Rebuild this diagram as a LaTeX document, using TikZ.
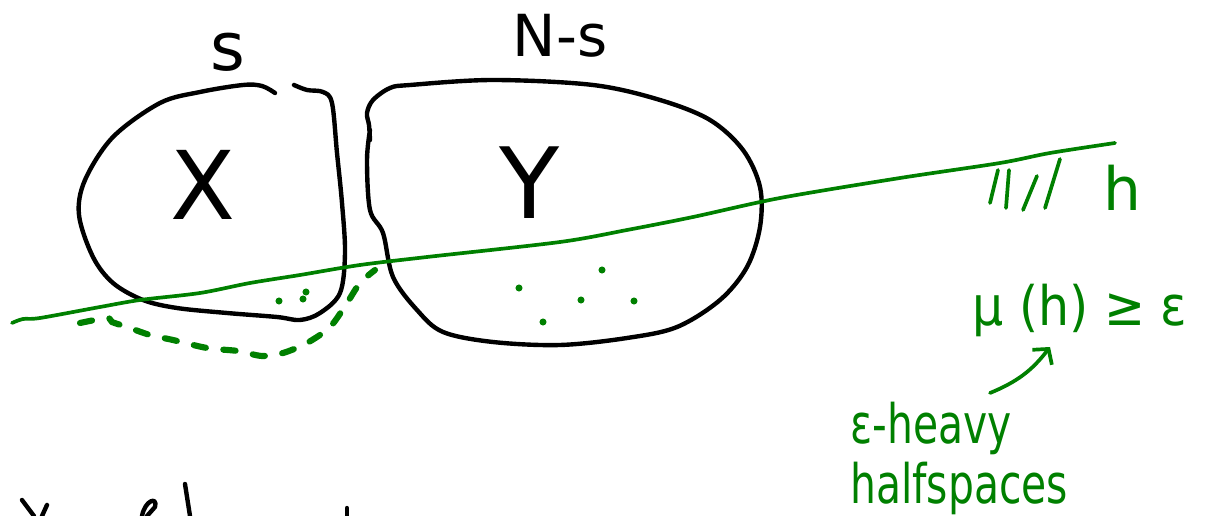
\documentclass[tikz,border=0pt]{standalone}
\usepackage{fontspec}
\setmainfont{DejaVu Sans}
\usepackage{xcolor}
\usetikzlibrary{arrows.meta}
\definecolor{penGreen}{RGB}{0,128,0}

\begin{document}
\begin{tikzpicture}[
    x=0.02cm, y=-0.02cm,
    ink/.style={black, line width=2.5pt, line cap=round, line join=round},
    greenink/.style={penGreen, line width=2.1pt, line cap=round, line join=round},
    dashink/.style={penGreen, line width=3.5pt, line cap=round,
                    dash pattern=on 7pt off 10pt},
    arrow/.style={greenink, -{Straight Barb[length=6pt, width=14pt]}},
    blacklbl/.style={black, inner sep=0pt},
    greenlbl/.style={penGreen, inner sep=0pt},
  ]
    \clip (0,0) rectangle (1212,516);

    % sets X and Y
    \draw[ink] plot[smooth, tension=0.55] coordinates {
      (275,93) (262,86) (243,85) (200,92) (160,103) (113,137) (85,180)
      (79,215) (93,257) (113,283) (143,300) (177,308) (227,313) (277,317)
      (300,320) (320,313) (340,293) (345,253) (342,203) (337,153) (332,103)
      (323,92) (307,90) (294,85)};
    \draw[ink] plot[smooth, tension=0.55] coordinates {
      (370,140) (369,125) (367,113) (373,100) (390,88) (410,85) (493,80)
      (593,85) (660,100) (710,120) (743,150) (760,187) (760,227) (747,267)
      (720,300) (677,327) (627,338) (560,345) (493,342) (443,332) (417,310)
      (393,277) (383,233) (370,210) (367,160) (370,130)};
    \node[blacklbl, font=\fontsize{54}{54}\selectfont] (xlbl) at (203,185) {X};
    \node[blacklbl, font=\fontsize{56}{56}\selectfont] (ylbl) at (530,183) {Y};
    \node[blacklbl, font=\fontsize{38}{38}\selectfont] (slbl) at (228,52) {s};
    \node[blacklbl, font=\fontsize{33}{33}\selectfont] (nslbl) at (560,36) {N-s};

    % halfspace h
    \draw[greenink] plot[smooth, tension=0.5] coordinates {
      (12,323) (23,319) (40,318) (100,307) (140,300) (200,293) (250,283)
      (300,275) (360,265) (427,257) (560,242) (627,230) (693,217)
      (780,198) (900,178) (1000,163) (1050,153) (1115,143)};
    \foreach \xa/\ya/\xb/\yb in {990/203/998/170, 1006/208/1009/170,
                                 1023/210/1037/176, 1045/208/1060/159}
      \draw[greenink] (\xa,\ya) -- (\xb,\yb);
    \node[greenlbl, font=\fontsize{34}{34}\selectfont] (hlbl) at (1122,188) {h};

    % points of X and Y in h
    \foreach \px/\py in {279/301, 303/299, 306/292, 519/288, 602/270,
                         581/300, 634/301, 543/322}
      \fill[penGreen] (\px,\py) circle (2pt);
    \draw[dashink] plot[smooth, tension=0.5] coordinates {
      (80,323) (107,318) (112,322) (127,327) (150,335) (173,340) (207,348)
      (238,351) (262,356) (283,353) (307,343) (330,327) (347,303)
      (360,283) (375,270)};

    % heavy halfspaces
    \node[greenlbl, font=\fontsize{31}{31}\selectfont, xscale=0.9] (mulbl)
          at (1080,310) {μ (h) ≥ ε};
    \node[greenlbl, font=\fontsize{31}{36}\selectfont, xscale=0.75,
          align=left, anchor=north west] (heavy) at (850,402)
          {ε-heavy\\[-2pt]halfspaces};
    \coordinate (tail) at (990,393);
    \coordinate (tip) at (1050,347);
    \draw[arrow] (tail) to[bend right=15] (tip);

    % cut off writing at the bottom
    \draw[ink] (22,500) -- (34,516);
    \draw[ink] (47,505) -- (42,516);
    \draw[ink] (142,516) .. controls (145,500) and (158,496) .. (155,507)
               -- (147,516);
    \draw[ink] (185,484) -- (190,516);
    \draw[ink] (347,508) -- (347,516);
\end{tikzpicture}
\end{document}
